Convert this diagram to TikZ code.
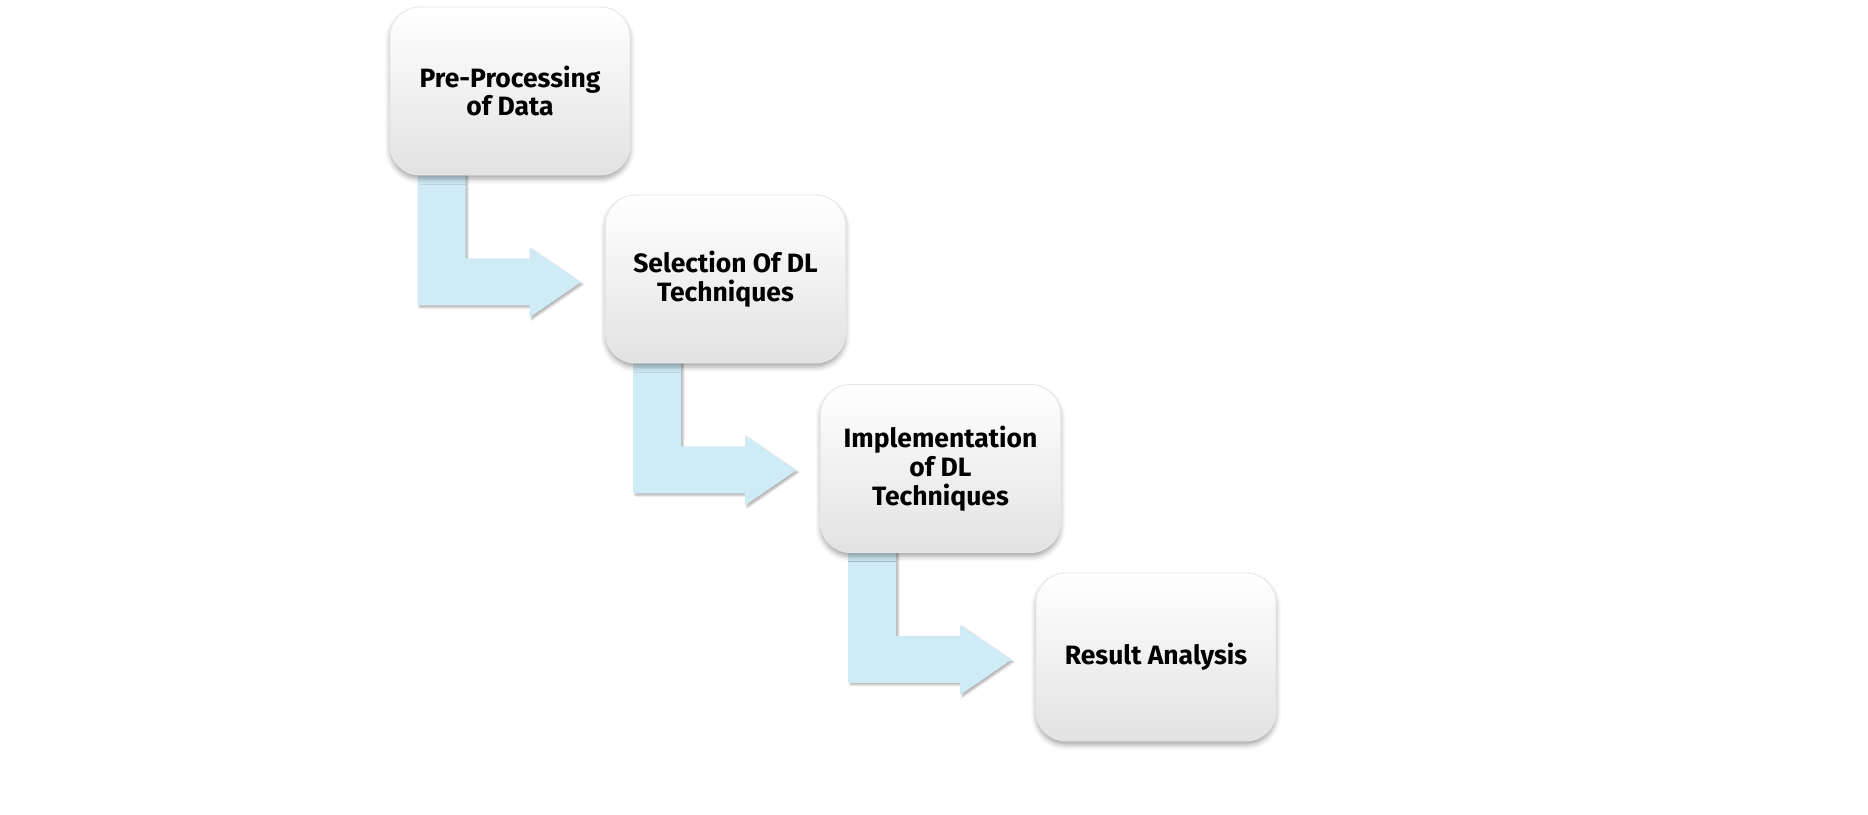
\documentclass[tikz,border=0pt]{standalone}
\usepackage{fontspec}
\setmainfont{Fira Sans}
\usetikzlibrary{shadows.blur,calc,backgrounds}
\definecolor{arrowblue}{HTML}{CFEBF5}
\definecolor{boxedge}{HTML}{E8E8E8}
\definecolor{boxbottom}{HTML}{E2E2E2}
\tikzset{
  stepbox/.style={rounded corners=30pt, minimum width=240pt, minimum height=168pt,
    draw=boxedge, line width=0.8pt, top color=white, middle color=white!97!black,
    bottom color=boxbottom, align=center, text=black,
    font=\bfseries\fontsize{26.5}{28.8}\selectfont,
    blur shadow={shadow xshift=0pt, shadow yshift=-4pt, shadow blur radius=5pt, shadow opacity=35}},
  bentarrow/.style={fill=arrowblue, draw=none,
    blur shadow={shadow xshift=2pt, shadow yshift=-2pt, shadow blur radius=2pt, shadow opacity=30}}
}
\newcommand{\bentarrowfrom}[1]{%
  \begin{pgfonlayer}{background}
  \path[bentarrow] ($(#1.south west)+(28,-10)$) -- ($(#1.south west)+(76,-10)$)
    -- ($(#1.south west)+(76,83)$) -- ($(#1.south west)+(140,83)$)
    -- ($(#1.south west)+(140,72)$) -- ($(#1.south west)+(191,107)$)
    -- ($(#1.south west)+(140,142)$) -- ($(#1.south west)+(140,130)$)
    -- ($(#1.south west)+(28,130)$) -- cycle;
  \end{pgfonlayer}}
\begin{document}
\begin{tikzpicture}[x=1pt,y=-1pt]
\useasboundingbox (0,0) rectangle (1868,814);
\node[stepbox] (b1) at (510,91) {Pre-Processing\\of Data};
\node[stepbox] (b2) at (725.5,279) {Selection Of DL\\Techniques};
\node[stepbox] (b3) at (940.5,468.5) {Implementation\\of DL\\Techniques};
\node[stepbox] (b4) at (1156,657) {Result Analysis};
\bentarrowfrom{b1}
\bentarrowfrom{b2}
\bentarrowfrom{b3}
\end{tikzpicture}
\end{document}
